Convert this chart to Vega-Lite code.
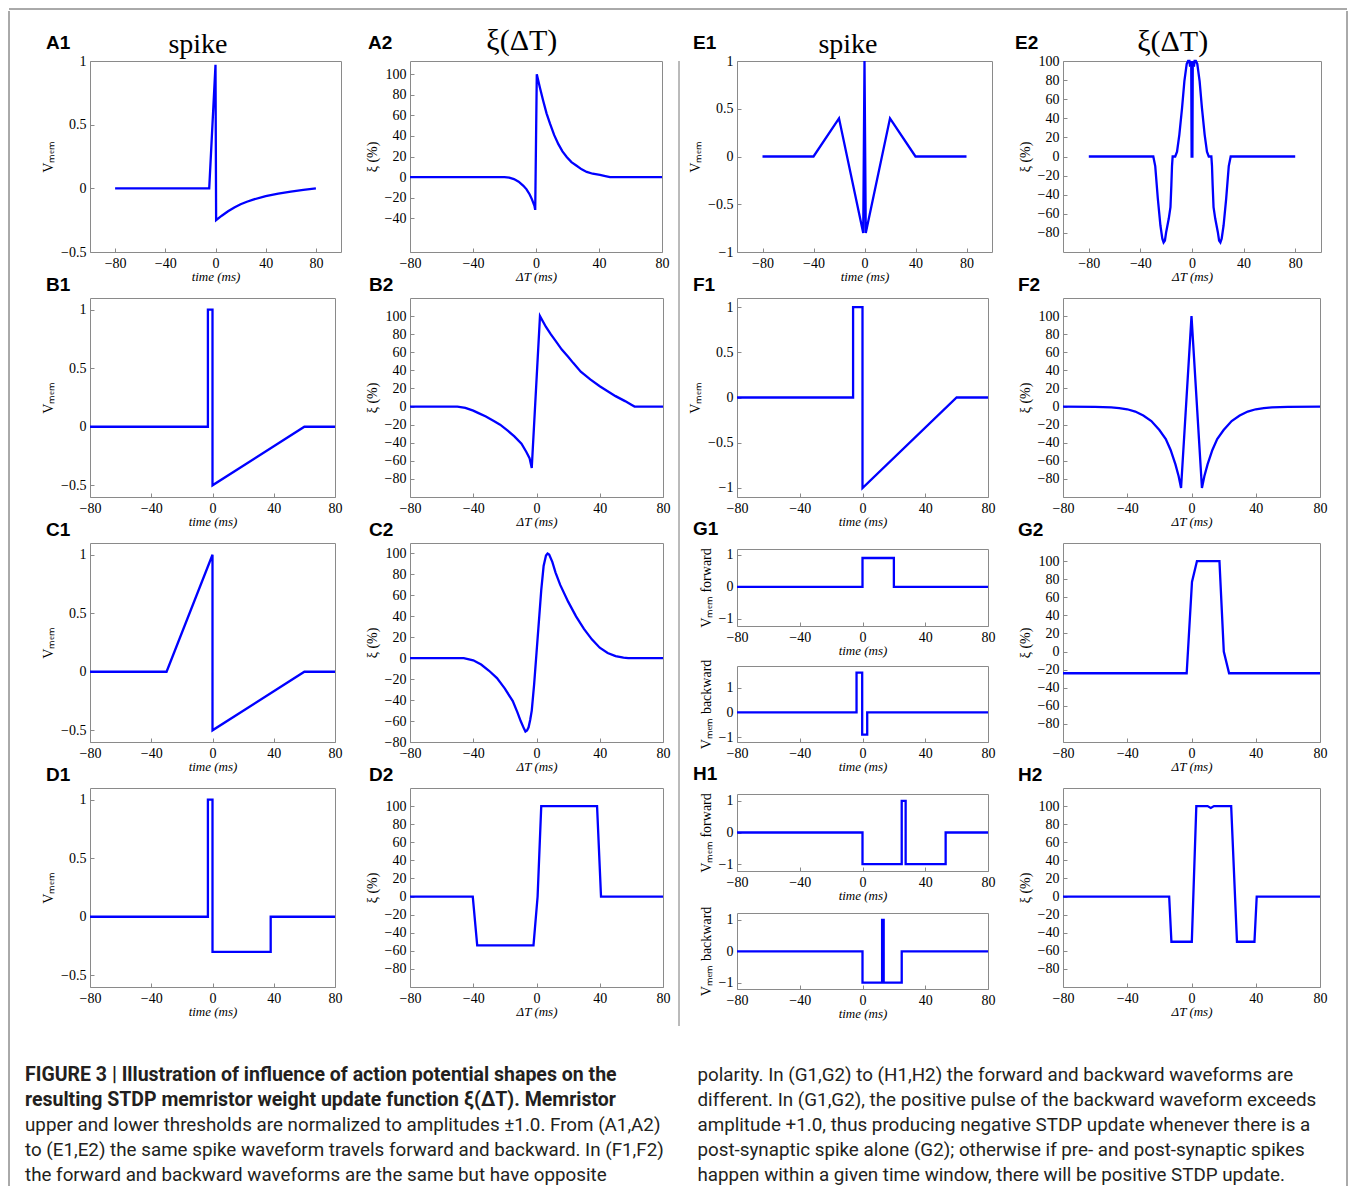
{
"$schema":"https://vega.github.io/schema/vega-lite/v6.json",
"padding":{"left":8,"top":8,"right":0,"bottom":0},
"background":"white",
"config":{
"view":{"stroke":"#8a8a8a","strokeWidth":1},
"axis":{"domain":false,"grid":false,"ticks":true,"tickSize":-4,"tickColor":"#8a8a8a","labelPadding":8,"labelFont":"Liberation Serif","labelFontSize":14,"labelColor":"#000","labelFlush":false,"labelOverlap":false,"labelBound":false,"titleFont":"Liberation Serif","titleFontSize":13,"titleFontWeight":"normal","titleColor":"#000"},
"axisX":{"titleFontStyle":"italic","titlePadding":0},
"axisY":{"titlePadding":5,"titleFontSize":14},
"line":{"color":"#0000ff","strokeWidth":2.3},
"title":{"anchor":"start","frame":"group","dx":-44,"offset":3,"baseline":"alphabetic","font":"Liberation Sans","fontSize":19,"fontWeight":"bold","color":"#000"}
},
"datasets":{
"A1":[{"t":-80,"v":0},{"t":-5,"v":0},{"t":0,"v":0.97},{"t":0.5,"v":-0.25},{"t":5,"v":-0.215},{"t":10,"v":-0.18},{"t":15,"v":-0.15},{"t":20,"v":-0.125},{"t":25,"v":-0.105},{"t":30,"v":-0.088},{"t":40,"v":-0.062},{"t":50,"v":-0.042},{"t":60,"v":-0.026},{"t":70,"v":-0.012},{"t":80,"v":0}],
"A2":[{"t":-80,"v":0},{"t":-20,"v":0},{"t":-17,"v":-0.5},{"t":-14,"v":-2},{"t":-11,"v":-4.5},{"t":-8,"v":-8.5},{"t":-6,"v":-12},{"t":-4,"v":-17},{"t":-2.5,"v":-22},{"t":-1,"v":-28},{"t":-0.5,"v":-32},{"t":0.5,"v":100},{"t":2.5,"v":87},{"t":4.6,"v":74},{"t":6.7,"v":62},{"t":8.9,"v":52},{"t":11.5,"v":41},{"t":14.2,"v":32},{"t":16.8,"v":25},{"t":19.5,"v":19.5},{"t":22.5,"v":14.5},{"t":25.8,"v":11},{"t":29,"v":7.5},{"t":32.2,"v":5},{"t":36,"v":3.2},{"t":40.6,"v":2},{"t":44,"v":1},{"t":47,"v":0},{"t":80,"v":0}],
"B1":[{"t":-80,"v":0},{"t":-3,"v":0},{"t":-3,"v":1},{"t":0,"v":1},{"t":0,"v":-0.5},{"t":60,"v":0},{"t":80,"v":0}],
"B2":[{"t":-80,"v":0},{"t":-50,"v":0},{"t":-45,"v":-1.5},{"t":-40,"v":-4.5},{"t":-37,"v":-7},{"t":-32,"v":-11},{"t":-27,"v":-16},{"t":-23,"v":-20},{"t":-18,"v":-27},{"t":-14,"v":-33},{"t":-9.5,"v":-41},{"t":-6.5,"v":-50},{"t":-4.4,"v":-57},{"t":-3,"v":-68},{"t":2.2,"v":100},{"t":6,"v":88},{"t":9,"v":80},{"t":12.3,"v":72},{"t":16,"v":63},{"t":20,"v":55},{"t":23.3,"v":48},{"t":28,"v":38.5},{"t":34,"v":30},{"t":40,"v":22.5},{"t":45,"v":17},{"t":50,"v":11.5},{"t":56,"v":6},{"t":60,"v":2},{"t":62,"v":0},{"t":80,"v":0}],
"C1":[{"t":-80,"v":0},{"t":-30,"v":0},{"t":0,"v":1},{"t":0,"v":-0.5},{"t":60,"v":0},{"t":80,"v":0}],
"C2":[{"t":-80,"v":0},{"t":-46,"v":0},{"t":-40,"v":-2},{"t":-35,"v":-6},{"t":-30,"v":-12},{"t":-25,"v":-19},{"t":-20,"v":-29},{"t":-15,"v":-41},{"t":-12,"v":-52},{"t":-10,"v":-60},{"t":-8,"v":-67},{"t":-7,"v":-70},{"t":-6,"v":-69},{"t":-5,"v":-66},{"t":-4,"v":-59},{"t":-3,"v":-50},{"t":-1.5,"v":-25},{"t":0,"v":5},{"t":1.5,"v":35},{"t":3,"v":65},{"t":4.5,"v":88},{"t":6,"v":98},{"t":7,"v":100},{"t":8,"v":99},{"t":10,"v":92},{"t":12,"v":82},{"t":15,"v":70},{"t":20,"v":54},{"t":25,"v":40},{"t":30,"v":28},{"t":35,"v":18},{"t":40,"v":10},{"t":45,"v":5},{"t":50,"v":2},{"t":55,"v":0.5},{"t":58,"v":0},{"t":80,"v":0}],
"D1":[{"t":-80,"v":0},{"t":-3,"v":0},{"t":-3,"v":1},{"t":0,"v":1},{"t":0,"v":-0.3},{"t":38,"v":-0.3},{"t":38,"v":0},{"t":80,"v":0}],
"D2":[{"t":-80,"v":0},{"t":-40.3,"v":0},{"t":-37.5,"v":-54},{"t":-1.9,"v":-54},{"t":0.7,"v":0},{"t":3,"v":100},{"t":38.3,"v":100},{"t":40.8,"v":0},{"t":80,"v":0}],
"E1":[{"t":-80,"v":0},{"t":-40,"v":0},{"t":-20,"v":0.4},{"t":-1,"v":-0.8},{"t":0,"v":1},{"t":1,"v":-0.8},{"t":20,"v":0.4},{"t":40,"v":0},{"t":80,"v":0}],
"E2":[{"t":-80,"v":0},{"t":-30,"v":0},{"t":-28.5,"v":-10},{"t":-26.5,"v":-44},{"t":-24.5,"v":-72},{"t":-23,"v":-86},{"t":-22,"v":-90},{"t":-21,"v":-88},{"t":-20,"v":-79},{"t":-18,"v":-65},{"t":-16.7,"v":-53},{"t":-16,"v":-30},{"t":-15.5,"v":-10},{"t":-15,"v":0},{"t":-13,"v":0},{"t":-11.6,"v":5},{"t":-9.8,"v":23},{"t":-7.7,"v":51},{"t":-5.9,"v":79},{"t":-4.1,"v":97},{"t":-3,"v":100},{"t":-2,"v":100},{"t":-1.5,"v":94},{"t":-0.6,"v":100},{"t":-0.3,"v":0},{"t":0.3,"v":0},{"t":0.6,"v":100},{"t":1.5,"v":94},{"t":2,"v":100},{"t":3,"v":100},{"t":4.1,"v":97},{"t":5.9,"v":79},{"t":7.7,"v":51},{"t":9.8,"v":23},{"t":11.6,"v":5},{"t":13,"v":0},{"t":15,"v":0},{"t":15.5,"v":-10},{"t":16,"v":-30},{"t":16.7,"v":-53},{"t":18,"v":-65},{"t":20,"v":-79},{"t":21,"v":-88},{"t":22,"v":-90},{"t":23,"v":-86},{"t":24.5,"v":-72},{"t":26.5,"v":-44},{"t":28.5,"v":-10},{"t":30,"v":0},{"t":80,"v":0}],
"F1":[{"t":-80,"v":0},{"t":-6,"v":0},{"t":-6,"v":1},{"t":0,"v":1},{"t":0,"v":-1},{"t":60,"v":0},{"t":80,"v":0}],
"F2":[{"t":-80,"v":0},{"t":-60,"v":-0.3},{"t":-50,"v":-1},{"t":-45,"v":-1.8},{"t":-40,"v":-3},{"t":-35,"v":-5.5},{"t":-30,"v":-10},{"t":-25,"v":-16},{"t":-20,"v":-26},{"t":-16,"v":-36},{"t":-13,"v":-48},{"t":-10,"v":-64},{"t":-8,"v":-77},{"t":-6.5,"v":-90},{"t":0,"v":100},{"t":6.5,"v":-90},{"t":8,"v":-77},{"t":10,"v":-64},{"t":13,"v":-48},{"t":16,"v":-36},{"t":20,"v":-26},{"t":25,"v":-16},{"t":30,"v":-10},{"t":35,"v":-5.5},{"t":40,"v":-3},{"t":45,"v":-1.8},{"t":50,"v":-1},{"t":60,"v":-0.3},{"t":80,"v":0}],
"G1f":[{"t":-80,"v":0},{"t":0,"v":0},{"t":0,"v":0.9},{"t":20,"v":0.9},{"t":20,"v":0},{"t":80,"v":0}],
"G1b":[{"t":-80,"v":0},{"t":-3.8,"v":0},{"t":-3.8,"v":1.6},{"t":-0.2,"v":1.6},{"t":-0.2,"v":-0.9},{"t":3,"v":-0.9},{"t":3,"v":0},{"t":80,"v":0}],
"G2":[{"t":-80,"v":-24},{"t":-3,"v":-24},{"t":0.3,"v":77},{"t":3.4,"v":100},{"t":17.4,"v":100},{"t":20.1,"v":0},{"t":23.4,"v":-24},{"t":80,"v":-24}],
"H1f":[{"t":-80,"v":0},{"t":0,"v":0},{"t":0,"v":-1},{"t":25,"v":-1},{"t":25,"v":1},{"t":27.5,"v":1},{"t":27.5,"v":-1},{"t":53,"v":-1},{"t":53,"v":0},{"t":80,"v":0}],
"H1b":[{"t":-80,"v":0},{"t":0,"v":0},{"t":0,"v":-1},{"t":12.5,"v":-1},{"t":12.5,"v":1},{"t":13.5,"v":1},{"t":13.5,"v":-1},{"t":25,"v":-1},{"t":25,"v":0},{"t":80,"v":0}],
"H2":[{"t":-80,"v":0},{"t":-13.9,"v":0},{"t":-12.5,"v":-50},{"t":0.2,"v":-50},{"t":3,"v":100},{"t":10,"v":100},{"t":12,"v":98},{"t":14,"v":100},{"t":24.7,"v":100},{"t":28.3,"v":-50},{"t":39.2,"v":-50},{"t":40.6,"v":0},{"t":80,"v":0}],
"caption":[
{"col":0,"line":1,"bold":true,"text":"FIGURE 3 | Illustration of influence of action potential shapes on the"},
{"col":0,"line":2,"bold":true,"text":"resulting STDP memristor weight update function ξ(ΔT). Memristor"},
{"col":0,"line":3,"bold":false,"text":"upper and lower thresholds are normalized to amplitudes ±1.0. From (A1,A2)"},
{"col":0,"line":4,"bold":false,"text":"to (E1,E2) the same spike waveform travels forward and backward. In (F1,F2)"},
{"col":0,"line":5,"bold":false,"text":"the forward and backward waveforms are the same but have opposite"},
{"col":1,"line":1,"bold":false,"text":"polarity. In (G1,G2) to (H1,H2) the forward and backward waveforms are"},
{"col":1,"line":2,"bold":false,"text":"different. In (G1,G2), the positive pulse of the backward waveform exceeds"},
{"col":1,"line":3,"bold":false,"text":"amplitude +1.0, thus producing negative STDP update whenever there is a"},
{"col":1,"line":4,"bold":false,"text":"post-synaptic spike alone (G2); otherwise if pre- and post-synaptic spikes"},
{"col":1,"line":5,"bold":false,"text":"happen within a given time window, there will be positive STDP update."}
]
},
"spacing":0,
"vconcat":[
{"width":1338,"height":1,"view":{"stroke":null},"data":{"values":[{}]},"mark":{"type":"rule","color":"#555","strokeWidth":1},"encoding":{"y":{"datum":1,"type":"quantitative","scale":{"domain":[0,1]},"axis":null}}},
{"spacing":15,"hconcat":[
{"width":1,"height":1175,"view":{"stroke":null},"data":{"values":[{}]},"mark":{"type":"rule","color":"#555","strokeWidth":1},"encoding":{"x":{"datum":0,"type":"quantitative","scale":{"domain":[0,1]},"axis":null}}},
{"spacing":0,"vconcat":[
{"width":1,"height":14,"view":{"stroke":null},"data":{"values":[{}]},"mark":{"type":"text"},"encoding":{"text":{"value":""}}},
{"spacing":8,"hconcat":[
{"width":8,"height":1,"view":{"stroke":null},"data":{"values":[{}]},"mark":{"type":"text"},"encoding":{"text":{"value":""}}},
{"spacing":7,"hconcat":[
{"spacing":21,"hconcat":[
{"spacing":-9,"vconcat":[
{"width":251,"height":191,"layer":[
{"data":{"name":"A1"},"mark":"line","encoding":{"x":{"field":"t","type":"quantitative","scale":{"domain":[-100,100],"nice":false},"axis":{"title":"time (ms)","values":[-80,-40,0,40,80],"format":".2~f"}},"y":{"field":"v","type":"quantitative","scale":{"domain":[-0.5,1],"nice":false},"axis":{"title":"Vₘₑₘ","values":[-0.5,0,0.5,1],"format":".2~f"}},"order":{"value":null}}},
{"data":{"values":[{"label":"A1"}]},"mark":{"type":"text","align":"left","baseline":"alphabetic","dx":-44,"dy":-12,"font":"Liberation Sans","fontSize":19,"fontWeight":"bold"},"encoding":{"x":{"datum":-100,"type":"quantitative","axis":{"title":"time (ms)","values":[-80,-40,0,40,80],"format":".2~f"}},"y":{"datum":1,"type":"quantitative","axis":{"title":"Vₘₑₘ","values":[-0.5,0,0.5,1],"format":".2~f"}},"text":{"field":"label"}}},
{"data":{"values":[{"label":"spike"}]},"mark":{"type":"text","align":"center","baseline":"alphabetic","dy":-8,"font":"Liberation Serif","fontSize":28},"encoding":{"x":{"datum":-14,"type":"quantitative","axis":{"title":"time (ms)","values":[-80,-40,0,40,80],"format":".2~f"}},"y":{"datum":1,"type":"quantitative","axis":{"title":"Vₘₑₘ","values":[-0.5,0,0.5,1],"format":".2~f"}},"text":{"field":"label"}}}
]},
{"width":245,"height":199,"title":{"text":"B1"},"data":{"name":"B1"},"mark":"line","encoding":{"x":{"field":"t","type":"quantitative","scale":{"domain":[-80,80],"nice":false},"axis":{"title":"time (ms)","values":[-80,-40,0,40,80],"format":".2~f"}},"y":{"field":"v","type":"quantitative","scale":{"domain":[-0.6,1.1],"nice":false},"axis":{"title":"Vₘₑₘ","values":[-0.5,0,0.5,1],"format":".2~f"}},"order":{"value":null}}},
{"width":245,"height":199,"title":{"text":"C1"},"data":{"name":"C1"},"mark":"line","encoding":{"x":{"field":"t","type":"quantitative","scale":{"domain":[-80,80],"nice":false},"axis":{"title":"time (ms)","values":[-80,-40,0,40,80],"format":".2~f"}},"y":{"field":"v","type":"quantitative","scale":{"domain":[-0.6,1.1],"nice":false},"axis":{"title":"Vₘₑₘ","values":[-0.5,0,0.5,1],"format":".2~f"}},"order":{"value":null}}},
{"width":245,"height":199,"title":{"text":"D1"},"data":{"name":"D1"},"mark":"line","encoding":{"x":{"field":"t","type":"quantitative","scale":{"domain":[-80,80],"nice":false},"axis":{"title":"time (ms)","values":[-80,-40,0,40,80],"format":".2~f"}},"y":{"field":"v","type":"quantitative","scale":{"domain":[-0.6,1.1],"nice":false},"axis":{"title":"Vₘₑₘ","values":[-0.5,0,0.5,1],"format":".2~f"}},"order":{"value":null}}}
]},
{"spacing":-9,"vconcat":[
{"width":252,"height":191,"layer":[
{"data":{"name":"A2"},"mark":"line","encoding":{"x":{"field":"t","type":"quantitative","scale":{"domain":[-80,80],"nice":false},"axis":{"title":"ΔT (ms)","values":[-80,-40,0,40,80],"format":".2~f"}},"y":{"field":"v","type":"quantitative","scale":{"domain":[-73,113],"nice":false},"axis":{"title":"ξ (%)","values":[-40,-20,0,20,40,60,80,100],"format":".2~f"}},"order":{"value":null}}},
{"data":{"values":[{"label":"A2"}]},"mark":{"type":"text","align":"left","baseline":"alphabetic","dx":-42,"dy":-12,"font":"Liberation Sans","fontSize":19,"fontWeight":"bold"},"encoding":{"x":{"datum":-80,"type":"quantitative","axis":{"title":"ΔT (ms)","values":[-80,-40,0,40,80],"format":".2~f"}},"y":{"datum":113,"type":"quantitative","axis":{"title":"ξ (%)","values":[-40,-20,0,20,40,60,80,100],"format":".2~f"}},"text":{"field":"label"}}},
{"data":{"values":[{"label":"ξ(ΔT)"}]},"mark":{"type":"text","align":"center","baseline":"alphabetic","dy":-11,"font":"Liberation Serif","fontSize":30},"encoding":{"x":{"datum":-9,"type":"quantitative","axis":{"title":"ΔT (ms)","values":[-80,-40,0,40,80],"format":".2~f"}},"y":{"datum":113,"type":"quantitative","axis":{"title":"ξ (%)","values":[-40,-20,0,20,40,60,80,100],"format":".2~f"}},"text":{"field":"label"}}}
]},
{"width":253,"height":199,"title":{"text":"B2","dx":-41},"data":{"name":"B2"},"mark":"line","encoding":{"x":{"field":"t","type":"quantitative","scale":{"domain":[-80,80],"nice":false},"axis":{"title":"ΔT (ms)","values":[-80,-40,0,40,80],"format":".2~f"}},"y":{"field":"v","type":"quantitative","scale":{"domain":[-100,120],"nice":false},"axis":{"title":"ξ (%)","values":[-80,-60,-40,-20,0,20,40,60,80,100],"format":".2~f"}},"order":{"value":null}}},
{"width":253,"height":199,"title":{"text":"C2","dx":-41},"data":{"name":"C2"},"mark":"line","encoding":{"x":{"field":"t","type":"quantitative","scale":{"domain":[-80,80],"nice":false},"axis":{"title":"ΔT (ms)","values":[-80,-40,0,40,80],"format":".2~f"}},"y":{"field":"v","type":"quantitative","scale":{"domain":[-80,110],"nice":false},"axis":{"title":"ξ (%)","values":[-80,-60,-40,-20,0,20,40,60,80,100],"format":".2~f"}},"order":{"value":null}}},
{"width":253,"height":199,"title":{"text":"D2","dx":-41},"data":{"name":"D2"},"mark":"line","encoding":{"x":{"field":"t","type":"quantitative","scale":{"domain":[-80,80],"nice":false},"axis":{"title":"ΔT (ms)","values":[-80,-40,0,40,80],"format":".2~f"}},"y":{"field":"v","type":"quantitative","scale":{"domain":[-100,120],"nice":false},"axis":{"title":"ξ (%)","values":[-80,-60,-40,-20,0,20,40,60,80,100],"format":".2~f"}},"order":{"value":null}}}
]}
]},
{"width":1,"height":965,"view":{"stroke":null},"data":{"values":[{}]},"mark":{"type":"rule","color":"#777","strokeWidth":1},"encoding":{"x":{"datum":0,"type":"quantitative","scale":{"domain":[0,1]},"axis":null}}}
]},
{"spacing":18,"hconcat":[
{"spacing":-9,"vconcat":[
{"width":255,"height":191,"layer":[
{"data":{"name":"E1"},"mark":"line","encoding":{"x":{"field":"t","type":"quantitative","scale":{"domain":[-100,100],"nice":false},"axis":{"title":"time (ms)","values":[-80,-40,0,40,80],"format":".2~f"}},"y":{"field":"v","type":"quantitative","scale":{"domain":[-1,1],"nice":false},"axis":{"title":"Vₘₑₘ","values":[-1,-0.5,0,0.5,1],"format":".2~f"}},"order":{"value":null}}},
{"data":{"values":[{"label":"E1"}]},"mark":{"type":"text","align":"left","baseline":"alphabetic","dx":-44,"dy":-12,"font":"Liberation Sans","fontSize":19,"fontWeight":"bold"},"encoding":{"x":{"datum":-100,"type":"quantitative","axis":{"title":"time (ms)","values":[-80,-40,0,40,80],"format":".2~f"}},"y":{"datum":1,"type":"quantitative","axis":{"title":"Vₘₑₘ","values":[-1,-0.5,0,0.5,1],"format":".2~f"}},"text":{"field":"label"}}},
{"data":{"values":[{"label":"spike"}]},"mark":{"type":"text","align":"center","baseline":"alphabetic","dy":-8,"font":"Liberation Serif","fontSize":28},"encoding":{"x":{"datum":-13,"type":"quantitative","axis":{"title":"time (ms)","values":[-80,-40,0,40,80],"format":".2~f"}},"y":{"datum":1,"type":"quantitative","axis":{"title":"Vₘₑₘ","values":[-1,-0.5,0,0.5,1],"format":".2~f"}},"text":{"field":"label"}}}
]},
{"width":251,"height":199,"title":{"text":"F1"},"data":{"name":"F1"},"mark":"line","encoding":{"x":{"field":"t","type":"quantitative","scale":{"domain":[-80,80],"nice":false},"axis":{"title":"time (ms)","values":[-80,-40,0,40,80],"format":".2~f"}},"y":{"field":"v","type":"quantitative","scale":{"domain":[-1.1,1.1],"nice":false},"axis":{"title":"Vₘₑₘ","values":[-1,-0.5,0,0.5,1],"format":".2~f"}},"order":{"value":null}}},
{"title":{"text":"G1","offset":8},"spacing":0,"vconcat":[
{"width":251,"height":77,"data":{"name":"G1f"},"mark":"line","encoding":{"x":{"field":"t","type":"quantitative","scale":{"domain":[-80,80],"nice":false},"axis":{"title":"time (ms)","values":[-80,-40,0,40,80],"format":".2~f"}},"y":{"field":"v","type":"quantitative","scale":{"domain":[-1.22,1.18],"nice":false},"axis":{"title":"Vₘₑₘ forward","values":[-1,0,1],"format":".2~f"}},"order":{"value":null}}},
{"width":251,"height":76,"data":{"name":"G1b"},"mark":"line","encoding":{"x":{"field":"t","type":"quantitative","scale":{"domain":[-80,80],"nice":false},"axis":{"title":"time (ms)","values":[-80,-40,0,40,80],"format":".2~f"}},"y":{"field":"v","type":"quantitative","scale":{"domain":[-1.2,1.87],"nice":false},"axis":{"title":"Vₘₑₘ backward","values":[-1,0,1],"format":".2~f"}},"order":{"value":null}}}
]},
{"title":{"text":"H1","offset":8},"spacing":2,"vconcat":[
{"width":251,"height":77,"data":{"name":"H1f"},"mark":"line","encoding":{"x":{"field":"t","type":"quantitative","scale":{"domain":[-80,80],"nice":false},"axis":{"title":"time (ms)","values":[-80,-40,0,40,80],"format":".2~f"}},"y":{"field":"v","type":"quantitative","scale":{"domain":[-1.22,1.22],"nice":false},"axis":{"title":"Vₘₑₘ forward","values":[-1,0,1],"format":".2~f"}},"order":{"value":null}}},
{"width":251,"height":76,"data":{"name":"H1b"},"mark":"line","encoding":{"x":{"field":"t","type":"quantitative","scale":{"domain":[-80,80],"nice":false},"axis":{"title":"time (ms)","values":[-80,-40,0,40,80],"format":".2~f"}},"y":{"field":"v","type":"quantitative","scale":{"domain":[-1.2,1.22],"nice":false},"axis":{"title":"Vₘₑₘ backward","values":[-1,0,1],"format":".2~f"}},"order":{"value":null}}}
]}
]},
{"spacing":-9,"vconcat":[
{"width":258,"height":191,"layer":[
{"data":{"name":"E2"},"mark":"line","encoding":{"x":{"field":"t","type":"quantitative","scale":{"domain":[-100,100],"nice":false},"axis":{"title":"ΔT (ms)","values":[-80,-40,0,40,80],"format":".2~f"}},"y":{"field":"v","type":"quantitative","scale":{"domain":[-100,100],"nice":false},"axis":{"title":"ξ (%)","values":[-80,-60,-40,-20,0,20,40,60,80,100],"format":".2~f"}},"order":{"value":null}}},
{"data":{"values":[{"label":"E2"}]},"mark":{"type":"text","align":"left","baseline":"alphabetic","dx":-48,"dy":-12,"font":"Liberation Sans","fontSize":19,"fontWeight":"bold"},"encoding":{"x":{"datum":-100,"type":"quantitative","axis":{"title":"ΔT (ms)","values":[-80,-40,0,40,80],"format":".2~f"}},"y":{"datum":100,"type":"quantitative","axis":{"title":"ξ (%)","values":[-80,-60,-40,-20,0,20,40,60,80,100],"format":".2~f"}},"text":{"field":"label"}}},
{"data":{"values":[{"label":"ξ(ΔT)"}]},"mark":{"type":"text","align":"center","baseline":"alphabetic","dy":-10,"font":"Liberation Serif","fontSize":30},"encoding":{"x":{"datum":-15,"type":"quantitative","axis":{"title":"ΔT (ms)","values":[-80,-40,0,40,80],"format":".2~f"}},"y":{"datum":100,"type":"quantitative","axis":{"title":"ξ (%)","values":[-80,-60,-40,-20,0,20,40,60,80,100],"format":".2~f"}},"text":{"field":"label"}}}
]},
{"width":257,"height":199,"title":{"text":"F2","dx":-45},"data":{"name":"F2"},"mark":"line","encoding":{"x":{"field":"t","type":"quantitative","scale":{"domain":[-80,80],"nice":false},"axis":{"title":"ΔT (ms)","values":[-80,-40,0,40,80],"format":".2~f"}},"y":{"field":"v","type":"quantitative","scale":{"domain":[-100,120],"nice":false},"axis":{"title":"ξ (%)","values":[-80,-60,-40,-20,0,20,40,60,80,100],"format":".2~f"}},"order":{"value":null}}},
{"width":257,"height":199,"title":{"text":"G2","dx":-45},"data":{"name":"G2"},"mark":"line","encoding":{"x":{"field":"t","type":"quantitative","scale":{"domain":[-80,80],"nice":false},"axis":{"title":"ΔT (ms)","values":[-80,-40,0,40,80],"format":".2~f"}},"y":{"field":"v","type":"quantitative","scale":{"domain":[-100,120],"nice":false},"axis":{"title":"ξ (%)","values":[-80,-60,-40,-20,0,20,40,60,80,100],"format":".2~f"}},"order":{"value":null}}},
{"width":257,"height":199,"title":{"text":"H2","dx":-45},"data":{"name":"H2"},"mark":"line","encoding":{"x":{"field":"t","type":"quantitative","scale":{"domain":[-80,80],"nice":false},"axis":{"title":"ΔT (ms)","values":[-80,-40,0,40,80],"format":".2~f"}},"y":{"field":"v","type":"quantitative","scale":{"domain":[-100,120],"nice":false},"axis":{"title":"ξ (%)","values":[-80,-60,-40,-20,0,20,40,60,80,100],"format":".2~f"}},"order":{"value":null}}}
]}
]}
]},
{"width":1,"height":35,"view":{"stroke":null},"data":{"values":[{}]},"mark":{"type":"text"},"encoding":{"text":{"value":""}}},
{"width":1306,"height":125,"view":{"stroke":null},"data":{"name":"caption"},
"encoding":{"x":{"field":"col","type":"quantitative","scale":{"domain":[0,1.942],"nice":false},"axis":null},"y":{"field":"line","type":"quantitative","scale":{"domain":[0.5,5.5],"reverse":true,"nice":false},"axis":null},"text":{"field":"text"}},
"layer":[
{"transform":[{"filter":"datum.bold"}],"mark":{"type":"text","align":"left","baseline":"middle","font":"Roboto","fontSize":19.5,"fontWeight":"bold","color":"#231f20"}},
{"transform":[{"filter":"!datum.bold"}],"mark":{"type":"text","align":"left","baseline":"middle","font":"Roboto","fontSize":18.8,"color":"#231f20"}}
]}
]},
{"width":1,"height":1175,"view":{"stroke":null},"data":{"values":[{}]},"mark":{"type":"rule","color":"#555","strokeWidth":1},"encoding":{"x":{"datum":0,"type":"quantitative","scale":{"domain":[0,1]},"axis":null}}}
]}
]
}
